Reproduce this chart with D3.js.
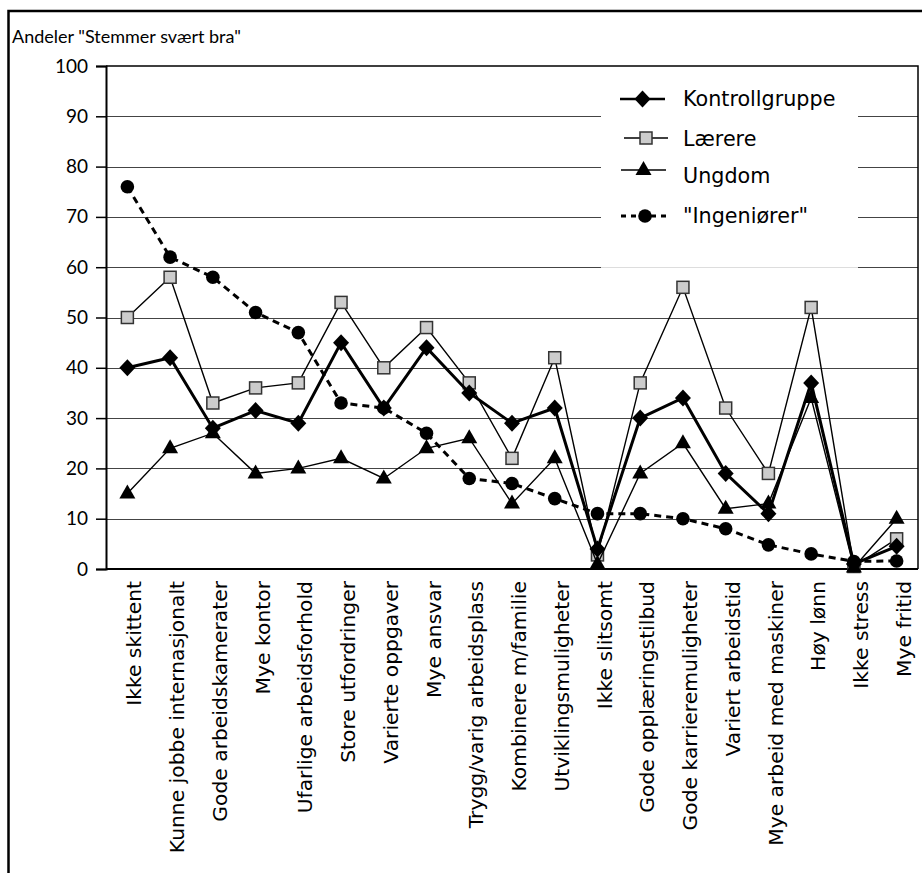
<!DOCTYPE html>
<html>
<head>
<meta charset="utf-8">
<script src="https://cdn.jsdelivr.net/npm/d3@7/dist/d3.min.js"></script>
<style>
  html, body { margin: 0; padding: 0; background: #fff; }
  svg { display: block; }
</style>
</head>
<body>
<svg id="chart" width="922" height="873"></svg>
<script>
const categories = [
  "Ikke skittent", "Kunne jobbe internasjonalt", "Gode arbeidskamerater", "Mye kontor",
  "Ufarlige arbeidsforhold", "Store utfordringer", "Varierte oppgaver", "Mye ansvar",
  "Trygg/varig arbeidsplass", "Kombinere m/familie", "Utviklingsmuligheter", "Ikke slitsomt",
  "Gode opplæringstilbud", "Gode karrieremuligheter", "Variert arbeidstid",
  "Mye arbeid med maskiner", "Høy lønn", "Ikke stress", "Mye fritid"
];
const kontrollgruppe = [40, 42, 28, 31.5, 29, 45, 32, 44, 35, 29, 32, 4, 30, 34, 19, 11, 37, 1, 4.5];
const laerere        = [50, 58, 33, 36, 37, 53, 40, 48, 37, 22, 42, 2.8, 37, 56, 32, 19, 52, 0.5, 6];
const ungdom         = [15, 24, 27, 19, 20, 22, 18, 24, 26, 13, 22, 1, 19, 25, 12, 13, 34, 0.3, 10];
const ingeniorer     = [76, 62, 58, 51, 47, 33, 32, 27, 18, 17, 14, 11, 11, 10, 8, 4.8, 3, 1.5, 1.6];
const yTicks = [0, 10, 20, 30, 40, 50, 60, 70, 80, 90, 100];
const seriesNames = ["Kontrollgruppe", "Lærere", "Ungdom", "\"Ingeniører\""];
const yTitle = "Andeler \"Stemmer svært bra\"";

(function () {
const svg = d3.select("#chart");
const pLeft = 106, pRight = 918, pTop = 66, pBottom = 569;
const labelFont = "DejaVu Sans", tickFont = "Lato";

const x = d3.scaleBand().domain(categories).range([pLeft, pRight]);
const cx = c => x(c) + x.bandwidth() / 2;
const y = d3.scaleLinear().domain([0, 100]).range([pBottom, pTop]);

// outer frame
svg.append("path")
  .attr("d", `M8.5,880 L8.5,11 L930,11`)
  .attr("fill", "none").attr("stroke", "#000").attr("stroke-width", 2.5);

// title
svg.append("text").attr("x", 12).attr("y", 43)
  .attr("font-family", tickFont).attr("font-size", 18).attr("fill", "#000").text(yTitle);

// gridlines
svg.append("g").selectAll("line").data(yTicks.filter(t => t > 0 && t < 100)).join("line")
  .attr("x1", pLeft).attr("x2", pRight)
  .attr("y1", d => Math.round(y(d)) + 0.5).attr("y2", d => Math.round(y(d)) + 0.5)
  .attr("stroke", "#444").attr("stroke-width", 1.2);

// legend background
const lg = { x0: 601, x1: 858, y0: 68, y1: 267 };
svg.append("rect").attr("x", lg.x0).attr("y", lg.y0)
  .attr("width", lg.x1 - lg.x0).attr("height", lg.y1 - lg.y0).attr("fill", "#fff");
svg.append("line").attr("x1", lg.x0).attr("x2", lg.x1)
  .attr("y1", lg.y1 + 0.5).attr("y2", lg.y1 + 0.5).attr("stroke", "#ddd");

// plot border top/right
svg.append("path")
  .attr("d", `M${pLeft},${y(100)} L${pRight},${y(100)} L${pRight},${pBottom}`)
  .attr("fill", "none").attr("stroke", "#000").attr("stroke-width", 1.5);

// y axis
const yAxis = d3.axisLeft(y).tickValues(yTicks).tickSize(10).tickPadding(8).tickFormat(d3.format("d"));
const ya = svg.append("g").attr("transform", `translate(${pLeft},0)`).call(yAxis);
ya.select(".domain").attr("stroke", "#000").attr("stroke-width", 2);
ya.selectAll(".tick line").attr("stroke", "#000").attr("stroke-width", 1.5);
ya.selectAll(".tick text").attr("font-size", 19).attr("font-family", tickFont).attr("fill", "#000");

// x axis
svg.append("line").attr("x1", pLeft).attr("x2", pRight).attr("y1", pBottom).attr("y2", pBottom)
  .attr("stroke", "#000").attr("stroke-width", 2);
svg.append("g").selectAll("text").data(categories).join("text")
  .attr("transform", d => `translate(${cx(d) + 7},581) rotate(-90)`)
  .attr("text-anchor", "end").attr("dy", "0.35em")
  .attr("font-size", 20.3).attr("font-family", labelFont).attr("fill", "#000")
  .text(d => d);

// symbols
const diamond = (g, px, py) => g.append("path")
  .attr("d", `M${px},${py - 8.5} L${px + 8},${py} L${px},${py + 8.5} L${px - 8},${py} Z`)
  .attr("fill", "#000");
const square = (g, px, py) => g.append("rect")
  .attr("x", px - 6).attr("y", py - 6).attr("width", 12).attr("height", 12)
  .attr("fill", "#cccccc").attr("stroke", "#333").attr("stroke-width", 1.5);
const triangle = (g, px, py) => g.append("path")
  .attr("d", `M${px},${py - 9} L${px + 8},${py + 5} L${px - 8},${py + 5} Z`)
  .attr("fill", "#000");
const circle = (g, px, py) => g.append("circle")
  .attr("cx", px).attr("cy", py).attr("r", 6.8).attr("fill", "#000");

const series = [
  { name: seriesNames[1], data: laerere, width: 1.4, dash: null, sym: square },
  { name: seriesNames[0], data: kontrollgruppe, width: 3, dash: null, sym: diamond },
  { name: seriesNames[2], data: ungdom, width: 1.4, dash: null, sym: triangle },
  { name: seriesNames[3], data: ingeniorer, width: 3, dash: "7,5", sym: circle }
];

const line = d3.line().x((d, i) => cx(categories[i])).y(d => y(d));
series.forEach(s => {
  const g = svg.append("g");
  g.append("path").attr("d", line(s.data)).attr("fill", "none")
    .attr("stroke", "#000").attr("stroke-width", s.width)
    .attr("stroke-dasharray", s.dash).attr("stroke-linejoin", "miter");
  s.data.forEach((v, i) => s.sym(g, cx(categories[i]), y(v)));
});

// legend
const legendItems = [
  { name: seriesNames[0], ly: 99, ty: 99, width: 2.5, dash: null, sym: diamond, x1: 620, x2: 665 },
  { name: seriesNames[1], ly: 138, ty: 139, width: 1.4, dash: null, sym: square, x1: 624, x2: 668 },
  { name: seriesNames[2], ly: 170, ty: 176, width: 1.4, dash: null, sym: triangle, x1: 621, x2: 666 },
  { name: seriesNames[3], ly: 216, ty: 216, width: 3, dash: "5,5", sym: circle, x1: 621, x2: 669 }
];
legendItems.forEach(it => {
  const g = svg.append("g");
  g.append("line").attr("x1", it.x1).attr("x2", it.x2).attr("y1", it.ly).attr("y2", it.ly)
    .attr("stroke", "#000").attr("stroke-width", it.width).attr("stroke-dasharray", it.dash);
  it.sym(g, (it.x1 + it.x2) / 2, it.ly);
  g.append("text").attr("x", 683).attr("y", it.ty).attr("dy", "0.35em")
    .attr("font-size", 20.7).attr("font-family", labelFont).attr("fill", "#000").text(it.name);
});
})();
</script>
</body>
</html>
